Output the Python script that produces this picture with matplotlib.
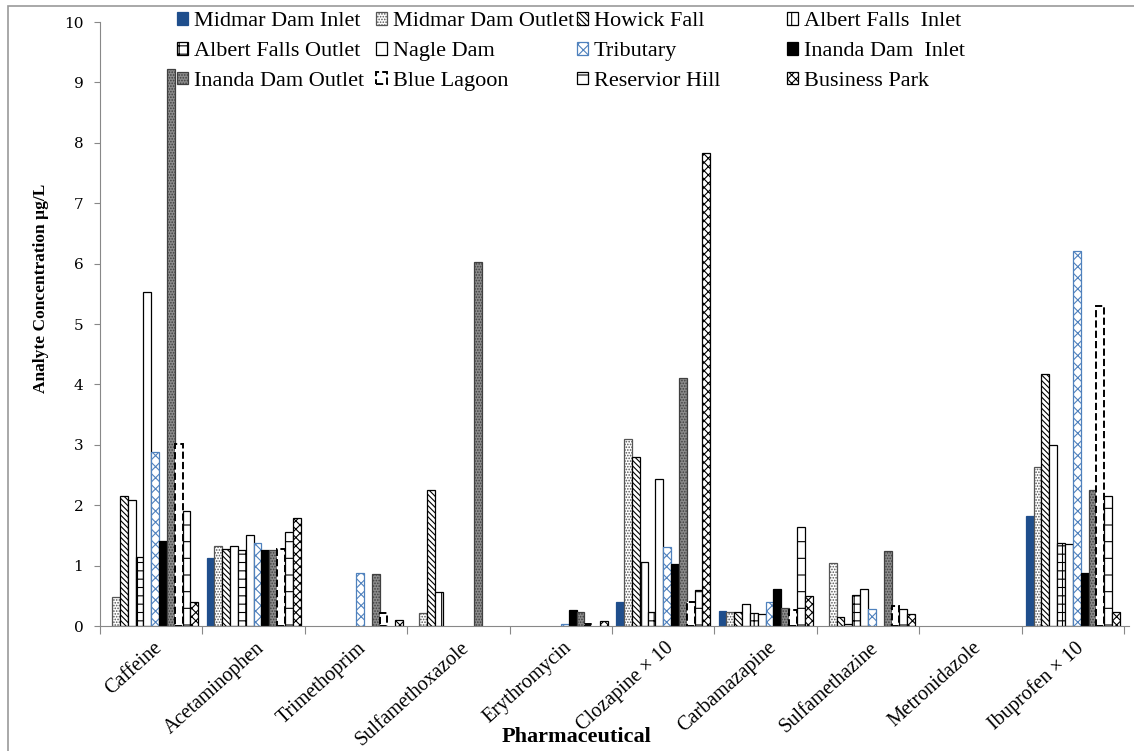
import numpy as np
import matplotlib
matplotlib.use("Agg")
import matplotlib.pyplot as plt
import matplotlib.transforms as mtransforms
from matplotlib.patches import Rectangle

plt.rcParams['font.family'] = ['Liberation Serif', 'DejaVu Serif']
plt.rcParams['hatch.linewidth'] = 0.8

# ---------- data ----------
drugs = ["Caffeine", "Acetaminophen", "Trimethoprim", "Sulfamethoxazole",
         "Erythromycin", "Clozapine \u00d7 10", "Carbamazapine", "Sulfamethazine",
         "Metronidazole", "Ibuprofen \u00d7 10"]

sites = ["Midmar Dam Inlet", "Midmar Dam Outlet", "Howick Fall", "Albert Falls  Inlet",
         "Albert Falls Outlet", "Nagle Dam", "Tributary", "Inanda Dam  Inlet",
         "Inanda Dam Outlet", "Blue Lagoon", "Reservior Hill", "Business Park"]

midmar_inlet   = [0.00, 1.13, 0.00, 0.00, 0.00, 0.40, 0.25, 0.00, 0.00, 1.82]
midmar_outlet  = [0.48, 1.33, 0.00, 0.22, 0.00, 3.10, 0.24, 1.04, 0.00, 2.63]
howick_fall    = [2.15, 1.28, 0.00, 2.25, 0.00, 2.80, 0.23, 0.15, 0.00, 4.17]
albert_inlet   = [2.08, 1.33, 0.00, 0.56, 0.00, 1.06, 0.36, 0.04, 0.00, 3.00]
albert_outlet  = [1.14, 1.26, 0.00, 0.00, 0.00, 0.23, 0.21, 0.51, 0.00, 1.37]
nagle_dam      = [5.53, 1.50, 0.00, 0.00, 0.00, 2.44, 0.20, 0.62, 0.00, 1.36]
tributary      = [2.88, 1.37, 0.87, 0.00, 0.04, 1.31, 0.39, 0.29, 0.00, 6.21]
inanda_inlet   = [1.40, 1.26, 0.00, 0.00, 0.26, 1.02, 0.62, 0.00, 0.00, 0.87]
inanda_outlet  = [9.23, 1.26, 0.86, 6.02, 0.24, 4.10, 0.30, 1.25, 0.00, 2.25]
blue_lagoon    = [3.02, 1.28, 0.22, 0.00, 0.04, 0.40, 0.27, 0.33, 0.00, 5.30]
reservior_hill = [1.90, 1.56, 0.00, 0.00, 0.00, 0.60, 1.64, 0.28, 0.00, 2.15]
business_park  = [0.40, 1.79, 0.10, 0.00, 0.09, 7.83, 0.50, 0.20, 0.00, 0.24]

series = [midmar_inlet, midmar_outlet, howick_fall, albert_inlet, albert_outlet,
          nagle_dam, tributary, inanda_inlet, inanda_outlet, blue_lagoon,
          reservior_hill, business_park]

# bar styles: facecolor, edgecolor, hatch, linestyle
styles = [
    ("#1f4e8c", "#1f4e8c", None, "-"),
    ("white", "#555555", "......", "-"),
    ("white", "black", "\\\\\\\\\\\\", "-"),
    ("white", "black", "|", "-"),
    ("white", "black", "++", "-"),
    ("white", "black", None, "-"),
    ("white", "#4f81bd", "xxx", "-"),
    ("black", "black", None, "-"),
    ("#8c8c8c", "#404040", "......", "-"),
    ("white", "black", None, "--"),
    ("white", "black", "-", "-"),
    ("white", "black", "XXXX", "-"),
]

# ---------- plot ----------
fig = plt.figure(figsize=(11.34, 7.51), dpi=100)
ax = fig.add_axes([0.0882, 0.1664, 0.9075, 0.8043])

n = len(series)
group_w = 0.92
bw = group_w / n
x = np.arange(len(drugs)) + 0.5

handles = []
for i, (vals, (fc, ec, hatch, ls)) in enumerate(zip(series, styles)):
    pos = x - group_w / 2 + bw * (i + 0.5)
    v = np.array(vals, dtype=float)
    v[v == 0] = np.nan   # no bar where nothing was detected
    b = ax.bar(pos, v, width=bw, facecolor=fc, edgecolor=ec, hatch=hatch,
               linestyle=ls, linewidth=1.4 if ls == "--" else 0.9, label=sites[i])
    handles.append(b)

ax.set_xlim(0, 10.05)
ax.set_ylim(0, 10)
ax.set_yticks(range(0, 11))
ax.set_yticklabels([str(v) for v in range(0, 11)], fontsize=11,
                   family=['DejaVu Serif'])
ax.tick_params(axis='y', direction='out', length=4, color='#888888', pad=8)

ax.set_xticks(np.arange(0, 11))
ax.set_xticklabels([])
ax.set_xticks(x, minor=True)
ax.set_xticklabels(drugs, minor=True, rotation=42, ha='right', va='center',
                   rotation_mode='anchor', fontsize=14.5)
ax.tick_params(axis='x', which='major', direction='out', length=6, color='#888888')
ax.tick_params(axis='x', which='minor', length=0, pad=14)
shift = mtransforms.ScaledTranslation(8 / 100, 0, fig.dpi_scale_trans)
for lab in ax.get_xticklabels(minor=True):
    lab.set_transform(lab.get_transform() + shift)

for s in ['top', 'right']:
    ax.spines[s].set_visible(False)
for s in ['left', 'bottom']:
    ax.spines[s].set_color('#888888')

fig.text(0.036, 0.6165, "Analyte Concentration \u00b5g/L", rotation=90, ha='center',
         va='center', fontsize=12.5, fontweight='bold')
fig.text(0.508, 0.005, "Pharmaceutical", ha='center', va='bottom', fontsize=16,
         fontweight='bold')

# legend: four columns placed like the original (row-wise order)
col_x = [177, 376, 577, 787]
for c in range(4):
    idx = [c, c + 4, c + 8]
    fig.legend([handles[k] for k in idx], [sites[k] for k in idx],
               loc='upper left', bbox_to_anchor=(col_x[c] / 1134, 0.984),
               frameon=False, fontsize=16, handlelength=0.5, handleheight=0.5,
               handletextpad=0.25, labelspacing=0.48, borderpad=0,
               borderaxespad=0)

# outer chart border
fig.patches.append(Rectangle((0.007, -0.01), 1.0, 1.002, transform=fig.transFigure,
                             fill=False, edgecolor='#999999', linewidth=1.2))

fig.savefig("out.png", dpi=100)
